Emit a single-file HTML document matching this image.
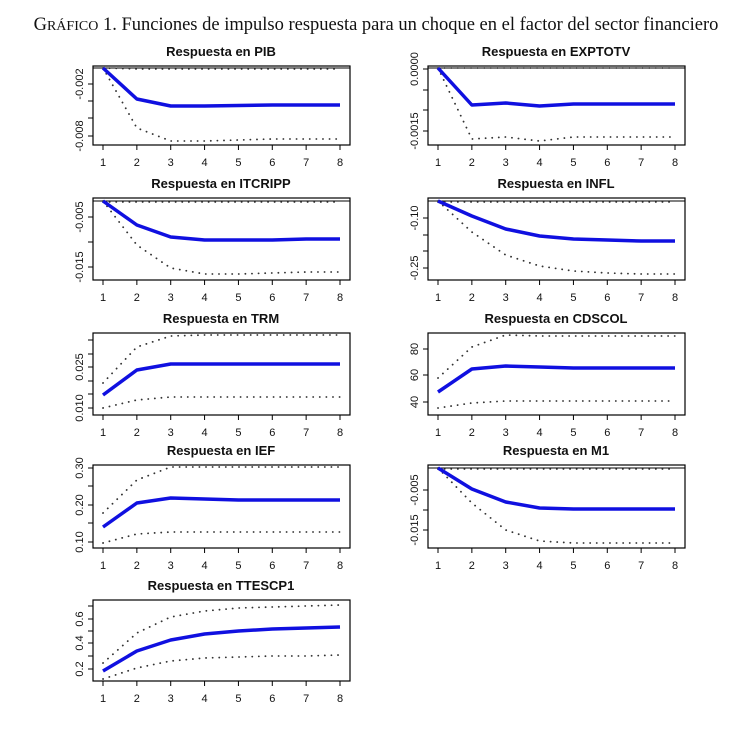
<!DOCTYPE html>
<html><head><meta charset="utf-8"><style>
body{margin:0;background:#fff;}
svg{display:block}
</style></head><body>
<svg id="s" width="750" height="731" xmlns="http://www.w3.org/2000/svg">
<text x="376" y="30" text-anchor="middle" font-family="Liberation Serif, serif" font-size="18.5" fill="#111">G<tspan font-size="14">RÁFICO</tspan> 1.  Funciones de impulso respuesta para un choque en el factor del sector financiero</text>
<g id="g"></g>
</svg>
<script>
var P=[
 {L:1,t:66,b:145,T:"Respuesta en PIB",ticks:[[84,"-0.002"],[101,""],[118,""],[136,"-0.008"]],z:68,
  m:[68,99,106,106,105.5,105,105,105],lo:[68,128,141,141,140,139,139,139],hi:[68,69,69,69,69,69,69,69]},
 {L:0,t:66,b:145,T:"Respuesta en EXPTOTV",ticks:[[69,"0.0000"],[90,""],[110,""],[131,"-0.0015"]],z:68,
  m:[68,105,103,106,104,104,104,104],lo:[68,139,137,141,137,137,137,137],hi:[68,68,68,68,68,68,68,68]},
 {L:1,t:198,b:280,T:"Respuesta en ITCRIPP",ticks:[[217,"-0.005"],[242,""],[267,"-0.015"]],z:201,
  m:[201,225,237,240,240,240,239,239],lo:[201,245,268,274,274,273,272,272],hi:[202,202,202,202,202,202,202,202]},
 {L:0,t:198,b:280,T:"Respuesta en INFL",ticks:[[218,"-0.10"],[235,""],[251,""],[268,"-0.25"]],z:201,
  m:[201,216,229,236,239,240,241,241],lo:[201,232,255,266,271,273,274,274],hi:[202,202,202,202,202,202,202,202]},
 {L:1,t:333,b:415,T:"Respuesta en TRM",ticks:[[408,"0.010"],[394,""],[381,""],[367,"0.025"],[354,""],[340,""]],
  m:[395,370,364,364,364,364,364,364],lo:[408,400,397,397,397,397,397,397],hi:[383,347,336,335,335,335,335,335]},
 {L:0,t:333,b:415,T:"Respuesta en CDSCOL",ticks:[[402,"40"],[375,"60"],[349,"80"]],
  m:[392,369,366,367,368,368,368,368],lo:[408,403,401,401,401,401,401,401],hi:[378,347,335,336,336,336,336,336]},
 {L:1,t:465,b:548,T:"Respuesta en IEF",ticks:[[542,"0.10"],[505,"0.20"],[468,"0.30"],[523,""],[486,""]],
  m:[527,503,498,499,500,500,500,500],lo:[543,534,532,532,532,532,532,532],hi:[513,480,467,467,467,467,467,467]},
 {L:0,t:465,b:548,T:"Respuesta en M1",ticks:[[490,"-0.005"],[510,""],[530,"-0.015"]],z:468,
  m:[468,489,502,508,509,509,509,509],lo:[468,503,530,541,543,543,543,543],hi:[469,469,469,469,469,469,469,469]},
 {L:1,t:600,b:681,T:"Respuesta en TTESCP1",ticks:[[669,"0.2"],[656,""],[643,"0.4"],[631,""],[619,"0.6"],[606,""]],
  m:[671,651,640,634,631,629,628,627],lo:[679,668,661,658,657,656,656,655],hi:[663,633,617,611,608,607,606,605]}
];
var h="";
P.forEach(function(p){
 var x0=p.L?93:428,x1=x0+257,tx=function(i){return x0+10+i*(237/7);};
 var F='font-family="Liberation Sans, sans-serif"';
 h+='<text x="'+(x0+128)+'" y="'+(p.t-10)+'" text-anchor="middle" '+F+' font-weight="bold" font-size="13" fill="#111">'+p.T+'</text>';
 h+='<rect x="'+x0+'" y="'+p.t+'" width="257" height="'+(p.b-p.t)+'" fill="none" stroke="#000" stroke-width="1.2"/>';
 if(p.z)h+='<line x1="'+x0+'" x2="'+x1+'" y1="'+p.z+'" y2="'+p.z+'" stroke="#000" stroke-width="1"/>';
 for(var i=0;i<8;i++){var x=tx(i);h+='<line x1="'+x+'" x2="'+x+'" y1="'+p.b+'" y2="'+(p.b+5)+'" stroke="#000"/><text x="'+x+'" y="'+(p.b+21)+'" text-anchor="middle" '+F+' font-size="11" fill="#111">'+(i+1)+'</text>';}
 p.ticks.forEach(function(t){h+='<line x1="'+(x0-5)+'" x2="'+x0+'" y1="'+t[0]+'" y2="'+t[0]+'" stroke="#000"/>';
  if(t[1])h+='<text transform="translate('+(x0-10)+','+t[0]+') rotate(-90)" text-anchor="middle" '+F+' font-size="11" fill="#111">'+t[1]+'</text>';});
 function pl(a,st){return '<polyline fill="none" points="'+a.map(function(v,i){return tx(i)+','+v;}).join(' ')+'" '+st+'/>';}
 var ds='stroke="#333" stroke-width="1.8" stroke-dasharray="0.1,6.5" stroke-linecap="round"';
 h+=pl(p.lo,ds);
 h+=pl(p.hi,ds);
 h+=pl(p.m,'stroke="#1010e0" stroke-width="3.5" stroke-linejoin="round"');
});
document.getElementById("g").innerHTML=h;
</script>
</body></html>
